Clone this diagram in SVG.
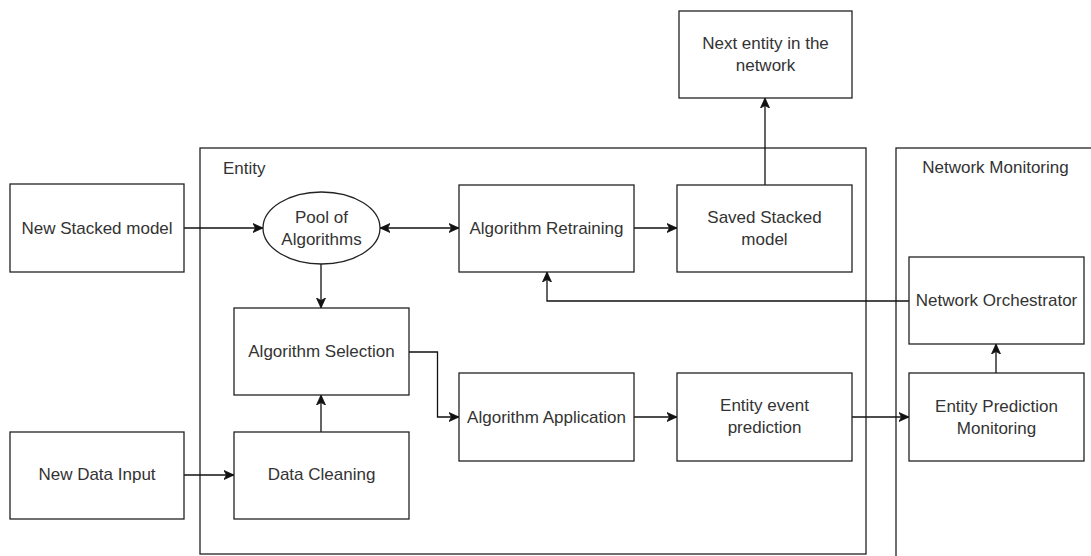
<svg xmlns="http://www.w3.org/2000/svg" width="1091" height="556" viewBox="0 0 1091 556">
<defs>
<marker id="arr" markerWidth="11" markerHeight="10" refX="10" refY="5" orient="auto-start-reverse" markerUnits="userSpaceOnUse">
<path d="M0,0.5 L10,5 L0,9.5 L2.5,5 Z" fill="#111" stroke="#111" stroke-width="0.8"/>
</marker>
</defs>
<style>
.box{fill:#fff;stroke:#222;stroke-width:1.3}
.cont{fill:none;stroke:#222;stroke-width:1.3}
.t{font-family:"Liberation Sans",Arial,sans-serif;font-size:17px;fill:#333;text-anchor:middle}
.tl{font-family:"Liberation Sans",Arial,sans-serif;font-size:17px;fill:#333}
.c{fill:none;stroke:#111;stroke-width:1.3}
</style>
<rect width="1091" height="556" fill="#fff"/>
<g id="entity-container">
<rect class="cont" x="200" y="148" width="666" height="406"/>
<text class="tl" x="223" y="174">Entity</text>
</g>
<g id="network-monitoring-container">
<rect class="cont" x="896" y="148" width="220" height="420"/>
<text class="t" x="995.5" y="173">Network Monitoring</text>
</g>
<g id="connectors">
<path class="c" d="M184,228 H263" marker-end="url(#arr)"/>
<path class="c" d="M380,228 H459" marker-start="url(#arr)" marker-end="url(#arr)"/>
<path class="c" d="M321,264 V308" marker-end="url(#arr)"/>
<path class="c" d="M634,228 H677" marker-end="url(#arr)"/>
<path class="c" d="M765,185 V98" marker-end="url(#arr)"/>
<path class="c" d="M909,301 H547 V272" marker-end="url(#arr)"/>
<path class="c" d="M321,432 V395" marker-end="url(#arr)"/>
<path class="c" d="M184,475 H234" marker-end="url(#arr)"/>
<path class="c" d="M409,352 H437.5 V417 H459" marker-end="url(#arr)"/>
<path class="c" d="M634,417 H677" marker-end="url(#arr)"/>
<path class="c" d="M852,417 H909" marker-end="url(#arr)"/>
<path class="c" d="M996,373 V344" marker-end="url(#arr)"/>
</g>
<g id="new-stacked-model">
<rect class="box" x="10" y="184" width="174" height="88"/>
<text class="t" x="97" y="234">New Stacked model</text>
</g>
<g id="pool-of-algorithms">
<ellipse class="box" cx="321.5" cy="228" rx="58.5" ry="36"/>
<text class="t" x="321.5" y="223">Pool of</text>
<text class="t" x="321.5" y="245">Algorithms</text>
</g>
<g id="algorithm-retraining">
<rect class="box" x="459" y="185" width="175" height="87"/>
<text class="t" x="546.5" y="234">Algorithm Retraining</text>
</g>
<g id="saved-stacked-model">
<rect class="box" x="677" y="185" width="175" height="87"/>
<text class="t" x="764.5" y="223">Saved Stacked</text>
<text class="t" x="764.5" y="245">model</text>
</g>
<g id="next-entity">
<rect class="box" x="679" y="11" width="173" height="87"/>
<text class="t" x="765.5" y="49">Next entity in the</text>
<text class="t" x="765.5" y="71">network</text>
</g>
<g id="algorithm-selection">
<rect class="box" x="234" y="308" width="175" height="87"/>
<text class="t" x="321.5" y="357">Algorithm Selection</text>
</g>
<g id="data-cleaning">
<rect class="box" x="234" y="432" width="175" height="87"/>
<text class="t" x="321.5" y="480">Data Cleaning</text>
</g>
<g id="new-data-input">
<rect class="box" x="10" y="432" width="174" height="87"/>
<text class="t" x="97" y="480">New Data Input</text>
</g>
<g id="algorithm-application">
<rect class="box" x="459" y="373" width="175" height="88"/>
<text class="t" x="546.5" y="423">Algorithm Application</text>
</g>
<g id="entity-event-prediction">
<rect class="box" x="677" y="373" width="175" height="88"/>
<text class="t" x="764.5" y="411">Entity event</text>
<text class="t" x="764.5" y="433">prediction</text>
</g>
<g id="network-orchestrator">
<rect class="box" x="909" y="257" width="175" height="87"/>
<text class="t" x="996.5" y="306">Network Orchestrator</text>
</g>
<g id="entity-prediction-monitoring">
<rect class="box" x="909" y="373" width="175" height="88"/>
<text class="t" x="996.5" y="412">Entity Prediction</text>
<text class="t" x="996.5" y="434">Monitoring</text>
</g>
</svg>
